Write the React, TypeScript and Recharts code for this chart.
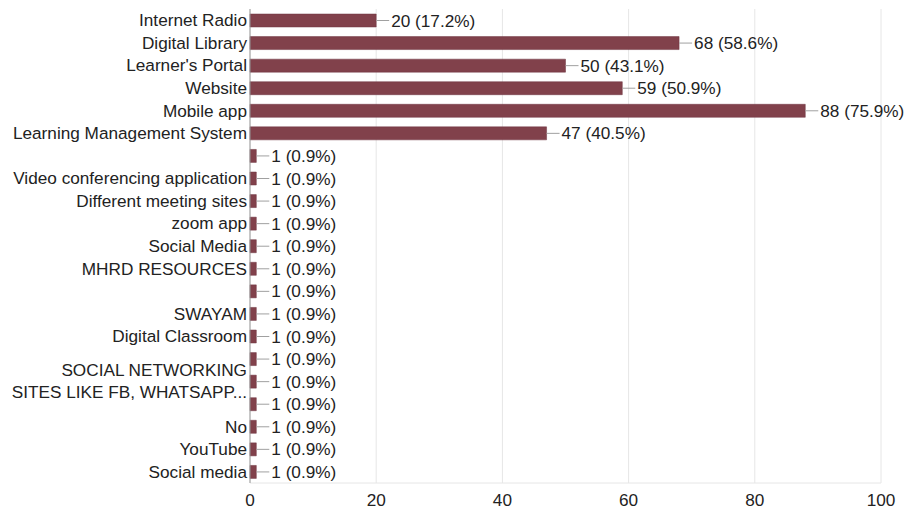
import { Bar, BarChart, CartesianGrid, LabelList, XAxis, YAxis } from "recharts";

const categories = [
  "Internet Radio",
  "Digital Library",
  "Learner's Portal",
  "Website",
  "Mobile app",
  "Learning Management System",
  "",
  "Video conferencing application",
  "Different meeting sites",
  "zoom app",
  "Social Media",
  "MHRD RESOURCES",
  "",
  "SWAYAM",
  "Digital Classroom",
  "",
  "SOCIAL NETWORKING\nSITES LIKE FB, WHATSAPP...",
  "",
  "No",
  "YouTube",
  "Social media",
];

const counts = [20, 68, 50, 59, 88, 47, 1, 1, 1, 1, 1, 1, 1, 1, 1, 1, 1, 1, 1, 1, 1];

const percents = [
  "17.2", "58.6", "43.1", "50.9", "75.9", "40.5",
  "0.9", "0.9", "0.9", "0.9", "0.9", "0.9", "0.9", "0.9",
  "0.9", "0.9", "0.9", "0.9", "0.9", "0.9", "0.9",
];

const xTicks = [0, 20, 40, 60, 80, 100];

const FONT = "'Liberation Sans', Arial, sans-serif";
const TEXT = "#222";
const FONT_SIZE = 17.2;

const data = categories.map((name, i) => ({ id: String(i), name, count: counts[i] }));

function CategoryTick(props: any) {
  const { x, y, payload } = props;
  const lines = categories[payload.index].split("\n");
  const lineGap = 22;
  const start = -((lines.length - 1) * lineGap) / 2;
  return (
    <text x={x} y={y} textAnchor="end" fill={TEXT} fontSize={FONT_SIZE} fontFamily={FONT}>
      {lines.map((line, i) => (
        <tspan key={i} x={x} y={y + start + i * lineGap} dy="0.35em">
          {line}
        </tspan>
      ))}
    </text>
  );
}

function ValueLabel(props: any) {
  const { x, y, width, height, index } = props;
  const end = x + width;
  const cy = y + height / 2;
  return (
    <g>
      <line x1={end} y1={cy} x2={end + 13} y2={cy} stroke="#a0a0a0" strokeWidth={1} />
      <text x={end + 15} y={cy} dy="0.35em" fill={TEXT} fontSize={FONT_SIZE} fontFamily={FONT}>
        {`${counts[index]} (${percents[index]}%)`}
      </text>
    </g>
  );
}

export default function App() {
  return (
    <div style={{ position: "absolute", left: 0, top: 0, width: 911, height: 512, background: "#fff" }}>
      <BarChart
        width={911}
        height={512}
        data={data}
        layout="vertical"
        margin={{ top: 9, right: 30, bottom: 0, left: 0 }}
        barSize={13}
      >
        <CartesianGrid stroke="#e6e6e6" horizontal={false} />
        <XAxis
          type="number"
          domain={[0, 100]}
          ticks={xTicks}
          height={29}
          axisLine={{ stroke: "#e6e6e6" }}
          tickLine={false}
          tickSize={0}
          tickMargin={11}
          tick={{ fill: TEXT, fontSize: FONT_SIZE, fontFamily: FONT }}
        />
        <YAxis
          type="category"
          dataKey="id"
          width={250}
          axisLine={{ stroke: "#9a9a9a" }}
          tickLine={false}
          tickSize={0}
          tickMargin={3}
          interval={0}
          tick={<CategoryTick />}
        />
        <Bar dataKey="count" fill="#81414b" stroke="#6e3540" strokeWidth={0.5} isAnimationActive={false}>
          <LabelList dataKey="count" content={<ValueLabel />} />
        </Bar>
      </BarChart>
    </div>
  );
}
